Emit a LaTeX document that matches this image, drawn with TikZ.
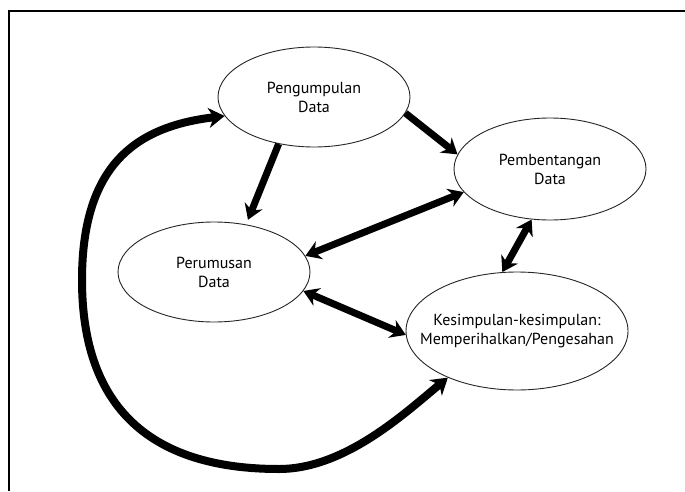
\documentclass[tikz,border=0pt]{standalone}
\usepackage{fontspec}
\setmainfont{PT Sans}
\usetikzlibrary{arrows.meta,shapes.geometric}

\begin{document}
\begin{tikzpicture}[x=1pt,y=1pt,
  blob/.style={ellipse,draw=black!85,line width=0.9pt,fill=white,inner sep=0pt,
    align=center,font=\fontsize{16}{19}\selectfont},
  link/.style={line width=7pt,>={Stealth[length=15pt,width=19pt,inset=5pt]}},
  bigarc/.style={line width=8pt,>={Stealth[length=16pt,width=20pt,inset=5pt]}}]
\useasboundingbox (0,0) rectangle (685,491);
\draw[line width=1.3pt] (9,0) -- (9,480) -- (685,480);
% the four stages
\node[blob,minimum width=192,minimum height=100] (pen) at (314,394) {Pengumpulan\\Data};
\node[blob,minimum width=192,minimum height=102] (pemb) at (550,322) {Pembentangan\\Data};
\node[blob,minimum width=192,minimum height=100] (perum) at (214,219) {Perumusan\\Data};
\node[blob,minimum width=222,minimum height=118] (kes) at (517,160)
  {\makebox[0pt]{Kesimpulan-kesimpulan:}\\\makebox[0pt]{Memperihalkan/Pengesahan}};
\coordinate (loopbot) at (279,22);
\coordinate (loopleft) at (82,211);
% arrows
\draw[link,->,shorten >=5pt] (pen.-127) -- (perum.56);
\draw[link,->] (pen.-10) -- (pemb.171);
\draw[link,<->] (perum.10) -- (pemb.195);
\draw[link,<->] (pemb.-110) -- (kes.104);
\draw[link,<->] (perum.-12) -- (kes.182);
\draw[bigarc,<->] (kes.214) .. controls (405,78) and (345,22) .. (loopbot)
  .. controls (136,22) and (82,98) .. (loopleft)
  .. controls (82,330) and (140,365) .. (pen.192);
\end{tikzpicture}
\end{document}
